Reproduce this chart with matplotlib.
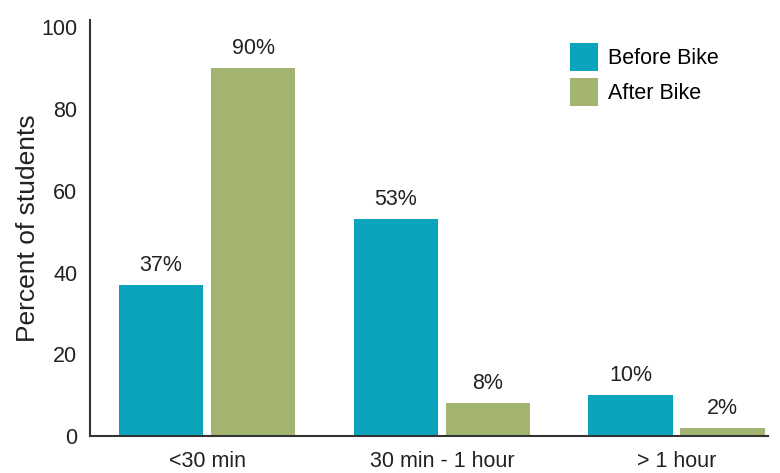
import numpy as np
import matplotlib.pyplot as plt

categories = ["<30 min", "30 min - 1 hour", "> 1 hour"]
before_bike = [37, 53, 10]
after_bike = [90, 8, 2]
yticks = [0, 20, 40, 60, 80, 100]

plt.rcParams['font.family'] = ['Liberation Sans', 'DejaVu Sans']

fig = plt.figure(figsize=(7.8, 4.73), dpi=100)
ax = fig.add_axes([0.115, 0.078, 0.87, 0.88])

x = np.arange(len(categories))
w = 0.36
off = 0.196
b1 = ax.bar(x - off, before_bike, w, color="#0ba4bc", label="Before Bike")
b2 = ax.bar(x + off, after_bike, w, color="#a2b46f", label="After Bike")

for bars, vals in ((b1, before_bike), (b2, after_bike)):
    for bar, v in zip(bars, vals):
        ax.text(bar.get_x() + bar.get_width() / 2, v + 2.2, f"{v}%",
                ha="center", va="bottom", fontsize=15.5, color="#222222")

ax.set_xlim(-0.5, 2.39)
ax.set_ylim(0, 101.8)
ax.set_xticks(x)
ax.set_xticklabels(categories, fontsize=15.5)
ax.set_yticks(yticks)
ax.tick_params(axis="both", length=0, labelsize=15.5, colors="#222222")
ax.tick_params(axis="x", pad=11)
ax.tick_params(axis="y", pad=9)
ax.set_ylabel("Percent of students", fontsize=19, color="#222222", labelpad=1)

for side in ("top", "right"):
    ax.spines[side].set_visible(False)
for side in ("left", "bottom"):
    ax.spines[side].set_color("#333333")
    ax.spines[side].set_linewidth(1.5)

ax.legend(loc="upper left", bbox_to_anchor=(570 / 780, 1 - 43 / 473),
          bbox_transform=fig.transFigure, frameon=False, borderpad=0,
          borderaxespad=0, fontsize=15.5, handlelength=1.3, handleheight=1.65,
          handletextpad=0.45, labelspacing=0.3)

fig.savefig("out.png", dpi=100)
